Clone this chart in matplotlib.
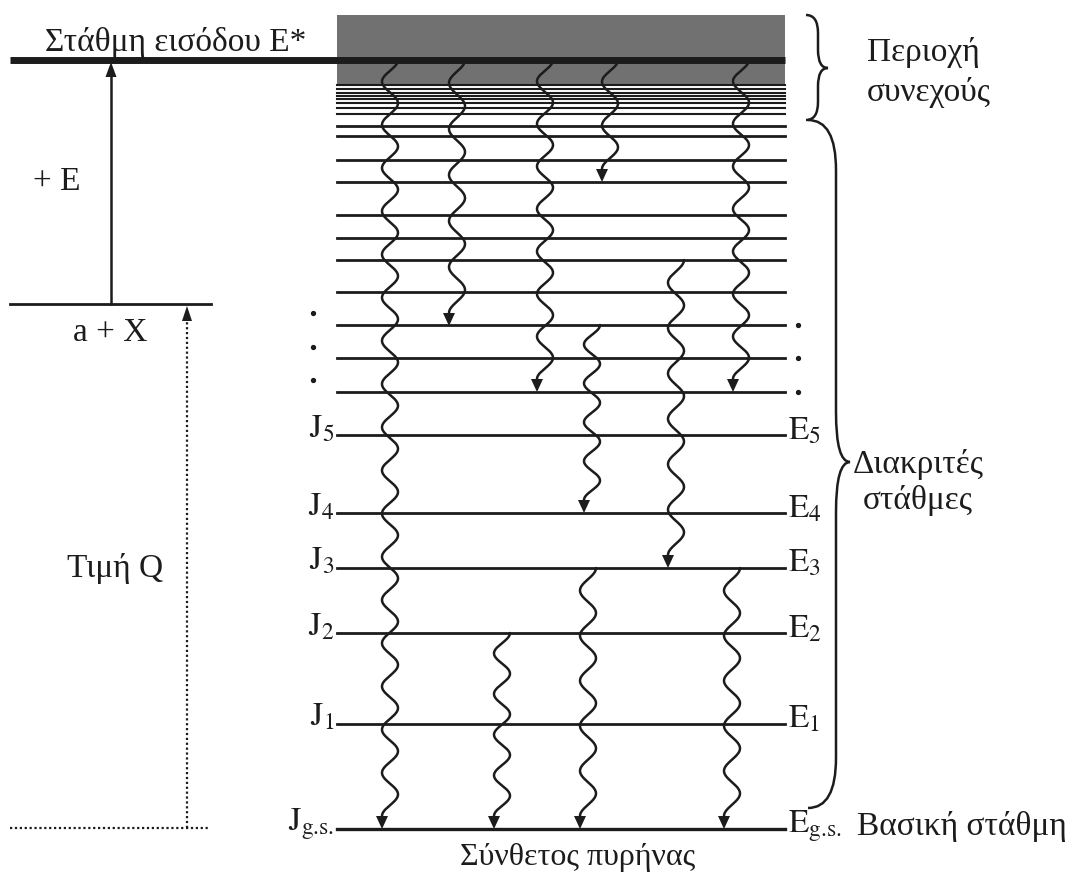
import numpy as np
import matplotlib
matplotlib.use("Agg")
import matplotlib.pyplot as plt
from matplotlib.path import Path
from matplotlib.patches import PathPatch, Polygon, Rectangle

plt.rcParams['font.family'] = ['Liberation Serif', 'DejaVu Serif']
plt.rcParams['mathtext.fontset'] = 'stix'

INK = '#1c1c1c'
GREY = '#717171'

# level heights, in pixels from the top of the sheet
entry_y = 60
ax_y = 304
q_base_y = 828
continuum_top = 15
continuum_lines = [85, 89, 93, 96, 99, 103, 108, 114]
discrete_lines = [126, 136, 160, 182, 215, 238, 260, 292, 325, 358, 392]
named_levels = [435, 513, 568, 633, 724, 829]
j_names = [r'$\mathrm{J}_5$', r'$\mathrm{J}_4$', r'$\mathrm{J}_3$',
           r'$\mathrm{J}_2$', r'$\mathrm{J}_1$', r'$\mathrm{J}_{\text{g.s.}}$']
e_names = [r'$\mathrm{E}_5$', r'$\mathrm{E}_4$', r'$\mathrm{E}_3$',
           r'$\mathrm{E}_2$', r'$\mathrm{E}_1$', r'$\mathrm{E}_{\text{g.s.}}$']

# gamma cascades: column centre, starting level, final level
gamma_x = [390, 457, 545, 610, 741, 676, 592, 588, 732, 502]
gamma_from = [60, 60, 60, 60, 60, 260, 325, 568, 568, 633]
gamma_to = [829, 326, 392, 182, 392, 568, 513, 829, 829, 829]

level_x0, level_x1 = 337, 785
FS = 24

fig = plt.figure(figsize=(10.71, 8.77), dpi=100)
ax = fig.add_axes([0, 0, 1, 1])
ax.set_xlim(0, 1071)
ax.set_ylim(877, 0)
ax.axis('off')


def head(x, y_tip, w=12, h=13, direction=1):
    # filled triangle; direction 1 points down, -1 points up
    ax.add_patch(Polygon([[x - w / 2, y_tip - direction * h],
                          [x + w / 2, y_tip - direction * h],
                          [x, y_tip]], closed=True, color=INK, lw=0))


def wavy(xc, y0, y1, amp=8, period=43, hl=13):
    # whole number of half waves so the line finishes on its left swing
    span = y1 - hl - y0
    n = max(int(round(span / period - 0.5)), 0)
    p = span / (n + 0.5)
    ys = np.linspace(y0, y1 - hl + 1, 600)
    xs = xc + amp * np.cos(2 * np.pi * (ys - y0) / p)
    ax.plot(xs, ys, color=INK, lw=1.8, solid_capstyle='round')
    head(xc - amp, y1, h=hl)


def brace(xl, xm, xr, ya, ym, yb, r):
    verts = [(xl, ya), (xm, ya), (xm, ya + r),
             (xm, ym - r),
             (xm, ym), (xr, ym),
             (xm, ym), (xm, ym + r),
             (xm, yb - r),
             (xm, yb), (xl, yb)]
    codes = [Path.MOVETO, Path.CURVE3, Path.CURVE3,
             Path.LINETO,
             Path.CURVE3, Path.CURVE3,
             Path.CURVE3, Path.CURVE3,
             Path.LINETO,
             Path.CURVE3, Path.CURVE3]
    ax.add_patch(PathPatch(Path(verts, codes), fill=False, color=INK, lw=1.8))


# continuum band
ax.add_patch(Rectangle((level_x0, continuum_top), level_x1 - level_x0,
                       continuum_lines[0] - continuum_top, color=GREY, lw=0))
for y in continuum_lines:
    ax.plot([level_x0, level_x1], [y, y], color=INK, lw=1.5)
for y in discrete_lines:
    ax.plot([level_x0, level_x1], [y, y], color=INK, lw=2)
for y in named_levels:
    ax.plot([level_x0, level_x1], [y, y], color=INK,
            lw=2.4 if y == named_levels[-1] else 2)

# entrance level across the whole sheet
ax.plot([10, level_x1], [entry_y, entry_y], color=INK, lw=5, solid_capstyle='butt')
ax.text(176, 51, 'Στάθμη εισόδου E*', fontsize=FS, ha='center', va='baseline', color=INK)

# a + X level and the two arrows on the left
ax.plot([10, 211], [ax_y, ax_y], color=INK, lw=2)
ax.text(110, 333, 'a + X', fontsize=FS, ha='center', va='center', color=INK)
ax.plot([111, 111], [ax_y, entry_y + 12], color=INK, lw=1.8)
head(111, entry_y + 2, w=11, h=15, direction=-1)
ax.text(57, 182, '+ E', fontsize=FS, ha='center', va='center', color=INK)

ax.plot([10, 210], [q_base_y, q_base_y], color=INK, lw=1.6, ls=(0, (1, 1.2)))
ax.plot([187, 187], [q_base_y, ax_y + 14], color=INK, lw=1.6, ls=(0, (1, 1.2)))
head(187, ax_y + 2, w=10, h=15, direction=-1)
ax.text(115, 568, 'Τιμή Q', fontsize=FS, ha='center', va='center', color=INK)

# ellipsis dots beside the dense part
ax.plot([313, 313, 313], [313, 347, 380], 'o', ms=2.8, color=INK)
ax.plot([798, 798, 798], [325, 358, 392], 'o', ms=2.8, color=INK)

# spin and energy labels
for y, j, e in zip(named_levels, j_names, e_names):
    ax.text(334, y + 2, j, fontsize=FS, ha='right', va='baseline', color=INK)
    ax.text(788, y + 4, e, fontsize=FS, ha='left', va='baseline', color=INK)

# gamma transitions
for xc, y0, y1 in zip(gamma_x, gamma_from, gamma_to):
    wavy(xc, y0, y1)

# braces and region names
brace(806, 818, 828, 15, 68, 120, 18)
brace(808, 836, 850, 120, 462, 808, 50)
ax.text(867, 53, 'Περιοχή', fontsize=FS, ha='left', va='center', color=INK)
ax.text(867, 92, 'συνεχούς', fontsize=FS, ha='left', va='center', color=INK)
ax.text(918, 465, 'Διακριτές', fontsize=FS, ha='center', va='center', color=INK)
ax.text(918, 500, 'στάθμες', fontsize=FS, ha='center', va='center', color=INK)
ax.text(857, 826, 'Βασική στάθμη', fontsize=FS, ha='left', va='center', color=INK)
ax.text(578, 858, 'Σύνθετος πυρήνας', fontsize=23, ha='center', va='center', color=INK)

fig.savefig('out.png', dpi=100)
